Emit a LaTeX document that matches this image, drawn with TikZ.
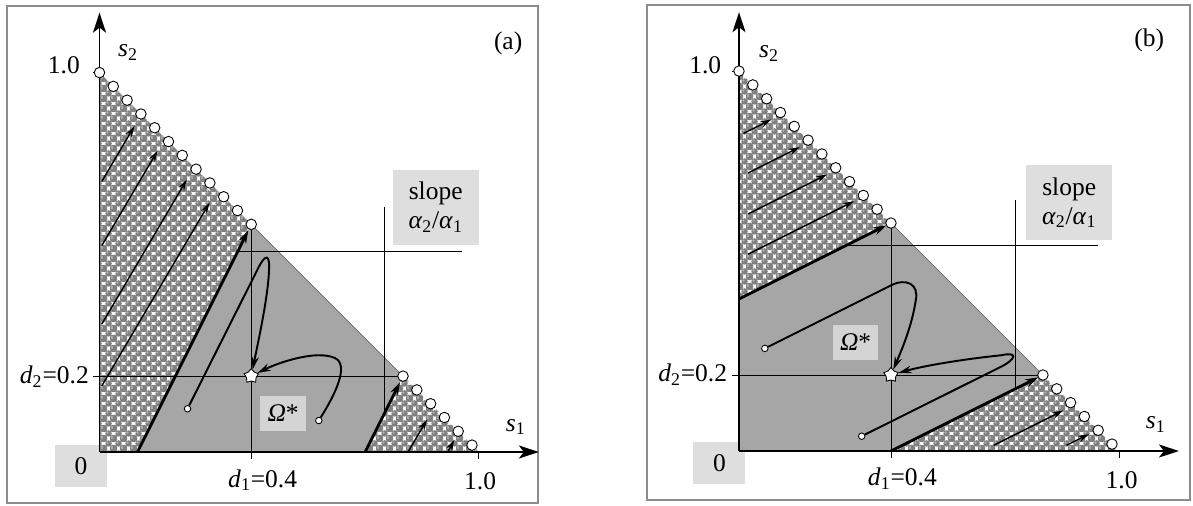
\documentclass[tikz,border=0pt]{standalone}
\usepackage{fontspec}
\setmainfont{Liberation Serif}
\usetikzlibrary{arrows.meta, shapes.geometric, patterns, calc}
\definecolor{regiongray}{RGB}{166,166,166}
\definecolor{ballgray}{RGB}{128,128,128}
\definecolor{balllight}{RGB}{182,182,182}
\definecolor{boxgray}{RGB}{222,222,222}
\definecolor{omgray}{RGB}{212,212,212}
\definecolor{framegray}{RGB}{140,140,140}
\definecolor{edgegray}{RGB}{110,110,110}
\pgfdeclarepatterninherentlycolored{balls}{\pgfqpoint{0pt}{0pt}}{\pgfqpoint{5.4pt}{5.4pt}}{\pgfqpoint{5.4pt}{5.4pt}}{
  \pgfsetfillcolor{ballgray}
  \pgfpathcircle{\pgfqpoint{0pt}{0pt}}{1.95pt}
  \pgfpathcircle{\pgfqpoint{5.4pt}{0pt}}{1.95pt}
  \pgfpathcircle{\pgfqpoint{0pt}{5.4pt}}{1.95pt}
  \pgfpathcircle{\pgfqpoint{5.4pt}{5.4pt}}{1.95pt}
  \pgfpathcircle{\pgfqpoint{2.7pt}{2.7pt}}{1.95pt}
  \pgfusepath{fill}
  \pgfsetfillcolor{balllight}
  \pgfpathcircle{\pgfqpoint{-0.6pt}{0.6pt}}{0.7pt}
  \pgfpathcircle{\pgfqpoint{4.8pt}{0.6pt}}{0.7pt}
  \pgfpathcircle{\pgfqpoint{-0.6pt}{6.0pt}}{0.7pt}
  \pgfpathcircle{\pgfqpoint{4.8pt}{6.0pt}}{0.7pt}
  \pgfpathcircle{\pgfqpoint{2.1pt}{3.3pt}}{0.7pt}
  \pgfusepath{fill}
}
\tikzset{
  axis/.style={line width=1pt,-{Stealth[length=4mm,width=2.6mm,inset=1mm]}},
  flow/.style={line width=0.8pt,-{Stealth[length=2.2mm,width=1.3mm]}},
  bound/.style={line width=1.6pt,-{Stealth[length=2.6mm,width=1.6mm]}},
  traj/.style={line width=1.1pt,-{Stealth[length=2.6mm,width=1.5mm]}},
  guide/.style={line width=0.5pt},
  hatch/.style={pattern=balls},
  ball/.style={circle,draw,fill=white,line width=0.5pt,minimum size=0.21cm,inner sep=0pt},
  seed/.style={circle,draw,fill=white,line width=0.5pt,minimum size=0.13cm,inner sep=0pt},
  optimum/.style={star,star points=5,draw,fill=white,line width=0.5pt,minimum size=0.3cm,inner sep=0pt},
  graybox/.style={fill=boxgray,inner sep=0pt},
  ombox/.style={fill=omgray,inner sep=0pt,minimum width=0.91cm,minimum height=0.69cm},
  slopebox/.style={graybox,align=center,minimum width=1.72cm,minimum height=1.5cm},
  zerobox/.style={graybox,minimum width=1.04cm,minimum height=0.84cm},
  lbl/.style={inner sep=0pt},
}

\begin{document}
\begin{tikzpicture}[x=0.02cm,y=-0.02cm,font=\fontsize{14.5}{16.5}\selectfont]
\useasboundingbox (0,0) rectangle (1193,505);

% frames
\draw[framegray,line width=0.6pt] (7,6) rectangle (538,503);
\draw[framegray,line width=0.6pt] (647,5) rectangle (1190,500);

%%%%%%%%%%%%%%%% panel (a)
\begin{scope}[shift={(99.5,452)},x=7.59cm,y=7.59cm]
\node[zerobox] (azero) at (-0.0485,-0.037) {0};
% regions
\fill[regiongray] (0.1,0) -- (0.7,0) -- (0.8,0.2) -- (0.4,0.6) -- cycle;
\fill[hatch] (0,0) -- (0.1,0) -- (0.4,0.6) -- (0,1) -- cycle;
\fill[hatch] (0.7,0) -- (1,0) -- (0.8,0.2) -- cycle;
\draw[edgegray,line width=0.4pt] (0.4,0.6) -- (0.8,0.2);

% label boxes
\node[slopebox] (aslope) at (0.886,0.645) {slope\\\textit{α}\textsubscript{2}/\textit{α}\textsubscript{1}};
\node[ombox] (aomega) at (0.484,0.102) {\textit{Ω}*};

% guide lines
\draw[guide] (-0.018,0.2) -- (0.8,0.2);
\draw[guide] (0.4,-0.018) -- (0.4,0.6);
\draw[guide] (0.364,0.528) -- (0.955,0.528);
\draw[guide] (0.751,0.647) -- (0.751,0.102);
\draw[guide] (-0.018,1) -- (0,1);
\draw[guide] (1,0) -- (1,-0.018);

% axes
\coordinate (aO) at (0,0);
\draw[axis] (aO) -- (0,1.158);
\draw[axis] (aO) -- (1.158,0);

% flows in the hatched parts
\draw[bound] (0.1,0) -- (0.392,0.584);
\draw[bound] (0.7,0) -- (0.792,0.184);
\draw[flow] (0.006,0.713) -- (0.092,0.859);
\draw[flow] (0.006,0.544) -- (0.153,0.794);
\draw[flow] (0.006,0.337) -- (0.230,0.718);
\draw[flow] (0.006,0.174) -- (0.290,0.657);
\draw[flow] (0.813,0) -- (0.863,0.085);
\draw[flow] (0.918,0) -- (0.935,0.032);

% trajectories
\node[seed] (aseed1) at (0.232,0.114) {};
\node[seed] (aseed2) at (0.578,0.083) {};
\node[optimum] (astar) at (0.4,0.2) {};
\draw[traj] (aseed1) -- (0.42,0.488) .. controls (0.43,0.508) and (0.447,0.53) .. (0.447,0.49)
  .. controls (0.447,0.42) and (0.418,0.29) .. (astar);
\draw[traj] (aseed2) .. controls (0.62,0.15) and (0.66,0.23) .. (0.62,0.248)
  .. controls (0.57,0.27) and (0.47,0.235) .. (astar);

% boundary balls
\foreach \k in {0,...,11,22,23,...,27}
  \node[ball] (aball\k) at ({\k*0.4/11},{1-\k*0.4/11}) {};

% labels
\node[lbl] (aone2) at (-0.094,1.02) {1.0};
\node[lbl] (as2) at (0.075,1.053) {\textit{s}\textsubscript{2}};
\node[lbl] (atag) at (1.077,1.076) {(a)};
\node[lbl] (ad2) at (-0.119,0.198) {\textit{d}\textsubscript{2}=0.2};
\node[lbl] (ad1) at (0.43,-0.074) {\textit{d}\textsubscript{1}=0.4};
\node[lbl] (aone1) at (1.003,-0.077) {1.0};
\node[lbl] (as1) at (1.097,0.066) {\textit{s}\textsubscript{1}};
\end{scope}

%%%%%%%%%%%%%%%% panel (b)
\begin{scope}[shift={(739,451)},x=7.6cm,y=7.6cm]
\node[zerobox] (bzero) at (-0.0515,-0.032) {0};
% regions
\fill[regiongray] (0,0) -- (0.4,0) -- (0.8,0.2) -- (0.4,0.6) -- (0,0.4) -- cycle;
\fill[hatch] (0,0.4) -- (0.4,0.6) -- (0,1) -- cycle;
\fill[hatch] (0.4,0) -- (1,0) -- (0.8,0.2) -- cycle;
\draw[edgegray,line width=0.4pt] (0.4,0.6) -- (0.8,0.2);

% label boxes
\node[slopebox] (bslope) at (0.869,0.6535) {slope\\\textit{α}\textsubscript{2}/\textit{α}\textsubscript{1}};
\node[ombox] (bomega) at (0.307,0.286) {\textit{Ω}*};

% guide lines
\draw[guide] (-0.018,0.2) -- (0.8,0.2);
\draw[guide] (0.4,-0.018) -- (0.4,0.6);
\draw[guide] (0.28,0.54) -- (0.945,0.54);
\draw[guide] (0.728,0.66) -- (0.728,0.164);
\draw[guide] (-0.018,1) -- (0,1);
\draw[guide] (1,0) -- (1,-0.018);

% axes
\coordinate (bO) at (0,0);
\draw[axis] (bO) -- (0,1.155);
\draw[axis] (bO) -- (1.158,0);

% flows in the hatched parts
\draw[bound] (0,0.4) -- (0.388,0.594);
\draw[bound] (0.4,0) -- (0.788,0.194);
\draw[flow] (0.012,0.836) -- (0.085,0.8725);
\draw[flow] (0.024,0.732) -- (0.16,0.80);
\draw[flow] (0.024,0.624) -- (0.232,0.728);
\draw[flow] (0.024,0.518) -- (0.303,0.6575);
\draw[flow] (0.67,0.015) -- (0.853,0.1065);
\draw[flow] (0.862,0.015) -- (0.921,0.0445);

% trajectories
\node[seed] (bseed1) at (0.068,0.27) {};
\node[seed] (bseed2) at (0.323,0.039) {};
\node[optimum] (bstar) at (0.4,0.2) {};
\draw[traj] (bseed1) -- (0.40,0.436) .. controls (0.44,0.456) and (0.475,0.44) .. (0.465,0.395)
  .. controls (0.455,0.33) and (0.43,0.27) .. (bstar);
\draw[traj] (bseed2) -- (0.69,0.222) .. controls (0.73,0.242) and (0.735,0.262) .. (0.69,0.252)
  .. controls (0.62,0.245) and (0.5,0.228) .. (bstar);

% boundary balls
\foreach \k in {0,...,11,22,23,...,27}
  \node[ball] (bball\k) at ({\k*0.4/11},{1-\k*0.4/11}) {};

% labels
\node[lbl] (bone2) at (-0.089,1.016) {1.0};
\node[lbl] (bs2) at (0.079,1.047) {\textit{s}\textsubscript{2}};
\node[lbl] (btag) at (1.08,1.08) {(b)};
\node[lbl] (bd2) at (-0.122,0.202) {\textit{d}\textsubscript{2}=0.2};
\node[lbl] (bd1) at (0.43,-0.072) {\textit{d}\textsubscript{1}=0.4};
\node[lbl] (bone1) at (1.007,-0.076) {1.0};
\node[lbl] (bs1) at (1.097,0.069) {\textit{s}\textsubscript{1}};
\end{scope}

\end{tikzpicture}
\end{document}
